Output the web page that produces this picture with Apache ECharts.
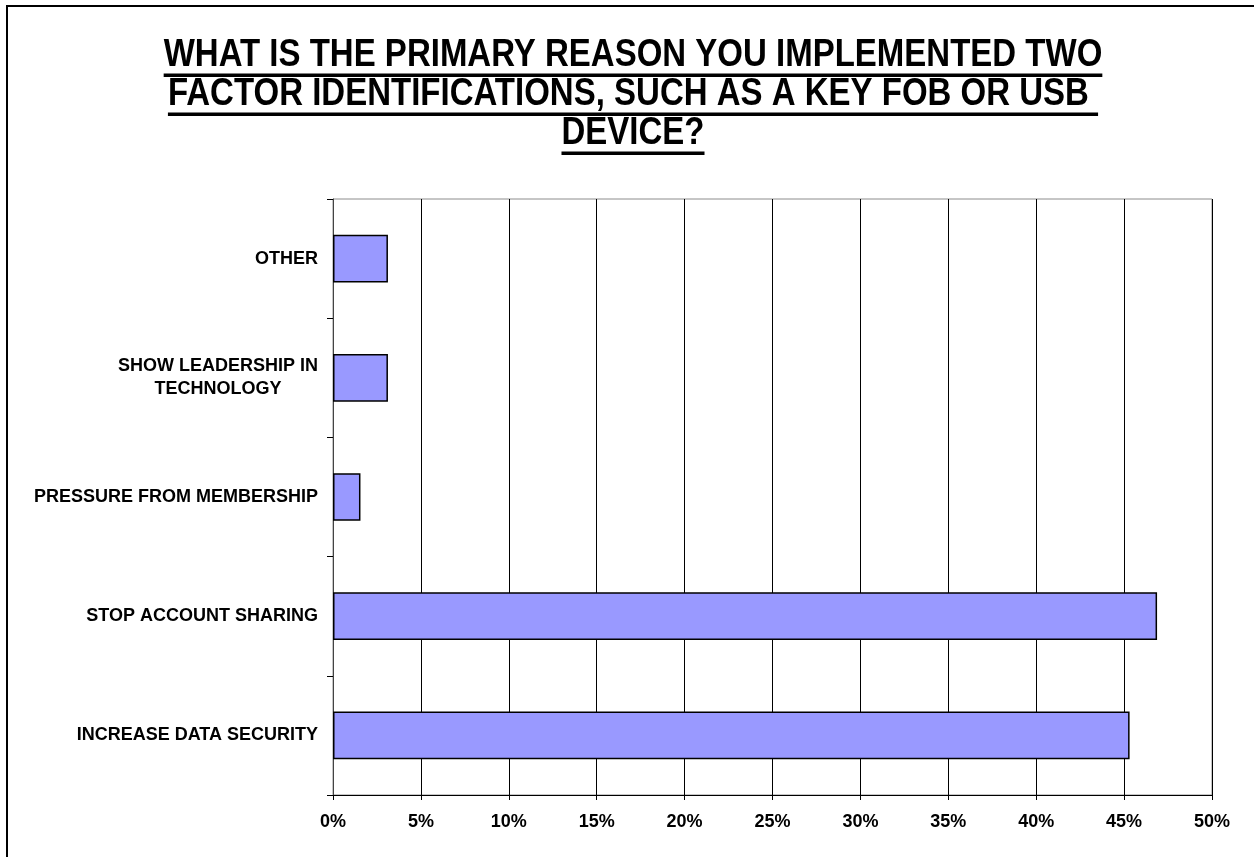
<!DOCTYPE html>
<html>
<head>
<meta charset="utf-8">
<title>Two factor identification survey</title>
<script src="https://cdn.jsdelivr.net/npm/echarts@6/dist/echarts.min.js"></script>
<style>
  html, body { margin: 0; padding: 0; background: #fff; }
  #chart { width: 1254px; height: 857px; }
</style>
</head>
<body>
<div id="chart"></div>
<script>
// Survey answers, listed bottom to top as they appear on the category axis
const categories = [
  'INCREASE DATA SECURITY',
  'STOP ACCOUNT SHARING',
  'PRESSURE FROM MEMBERSHIP',
  'SHOW LEADERSHIP IN\nTECHNOLOGY',
  'OTHER'
];
// Share of respondents (%)
const shares = [45.3125, 46.875, 1.5625, 3.125, 3.125];

// Value axis settings
const axisMin = 0;
const axisMax = 50;
const axisStep = 5;

// Title, broken into its three lines
const titleLines = [
  'WHAT IS THE PRIMARY REASON YOU IMPLEMENTED TWO',
  'FACTOR IDENTIFICATIONS, SUCH AS A KEY FOB OR USB ',
  'DEVICE?'
];

const FONT = '"Liberation Sans", Arial, Helvetica, sans-serif';
const titleFontSize = 33;
const titleCenterX = 633;
const titleFirstY = 55.5;
const titleStep = 39;
const titleStretch = 1.15;

// Measure each title line so its underline spans exactly the text
const measureCtx = document.createElement('canvas').getContext('2d');
measureCtx.font = 'bold ' + titleFontSize + 'px ' + FONT;

const titleGraphics = [];
titleLines.forEach(function (line, i) {
  const cy = titleFirstY + i * titleStep;
  const w = measureCtx.measureText(line).width;
  titleGraphics.push({
    type: 'text',
    x: titleCenterX,
    y: cy,
    scaleY: titleStretch,
    silent: true,
    style: {
      text: line,
      fill: '#000',
      font: 'bold ' + titleFontSize + 'px ' + FONT,
      align: 'center',
      verticalAlign: 'middle'
    }
  });
  titleGraphics.push({
    type: 'rect',
    silent: true,
    shape: { x: titleCenterX - w / 2, y: cy + 18, width: w, height: 3.5 },
    style: { fill: '#000' }
  });
});

// Outer frame around the chart area
const frame = {
  type: 'rect',
  silent: true,
  shape: { x: 7, y: 6, width: 1400, height: 1000 },
  style: { fill: 'none', stroke: '#000', lineWidth: 2 }
};

const chart = echarts.init(document.getElementById('chart'), null, { renderer: 'canvas' });

chart.setOption({
  backgroundColor: '#fff',
  animation: false,
  textStyle: { fontFamily: FONT, color: '#000' },
  graphic: [frame].concat(titleGraphics),
  grid: {
    left: 333,
    right: 42,
    top: 199,
    bottom: 62,
    show: true,
    borderColor: '#8c8c8c',
    borderWidth: 1,
    containLabel: false
  },
  xAxis: {
    type: 'value',
    min: axisMin,
    max: axisMax,
    interval: axisStep,
    axisLine: { show: true, lineStyle: { color: '#000', width: 1 } },
    axisTick: { show: true, length: 5, lineStyle: { color: '#000' } },
    splitLine: { show: true, lineStyle: { color: '#000', width: 1 } },
    axisLabel: {
      formatter: '{value}%',
      fontFamily: FONT,
      fontSize: 18,
      fontWeight: 'bold',
      color: '#000',
      margin: 18
    }
  },
  yAxis: {
    type: 'category',
    data: categories,
    axisLine: { show: true, lineStyle: { color: '#444', width: 1 } },
    axisTick: { show: true, length: 6, lineStyle: { color: '#000' } },
    splitLine: { show: false },
    axisLabel: {
      fontFamily: FONT,
      fontSize: 18,
      fontWeight: 'bold',
      color: '#000',
      margin: 15,
      lineHeight: 23,
      formatter: function (v) {
        if (v.indexOf('\n') < 0) return v;
        return v.split('\n').map(function (s) { return '{ctr|' + s + '}'; }).join('\n');
      },
      rich: {
        ctr: {
          align: 'center',
          fontFamily: FONT,
          fontSize: 18,
          fontWeight: 'bold',
          color: '#000',
          lineHeight: 23
        }
      }
    }
  },
  series: [{
    type: 'bar',
    data: shares,
    barCategoryGap: '60%',
    itemStyle: {
      color: '#9999FF',
      borderColor: '#000',
      borderWidth: 1.5
    },
    emphasis: { disabled: true }
  }]
});
</script>
</body>
</html>
